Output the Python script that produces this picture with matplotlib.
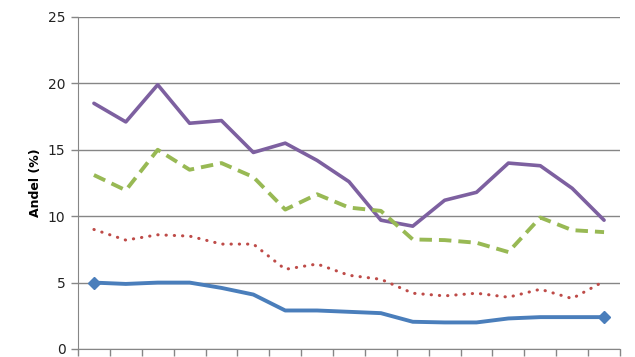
import matplotlib
matplotlib.use("Agg")
import matplotlib.pyplot as plt
import numpy as np

categories = list(range(1, 18))
purple = [18.5, 17.1, 19.9, 17.0, 17.2, 14.8, 15.5, 14.2, 12.6, 9.7, 9.25, 11.2, 11.8, 14.0, 13.8, 12.1, 9.7]
green = [13.1, 11.95, 15.0, 13.5, 14.0, 12.95, 10.5, 11.65, 10.65, 10.4, 8.25, 8.2, 8.0, 7.3, 9.9, 8.95, 8.8]
red = [9.0, 8.2, 8.6, 8.5, 7.9, 7.9, 6.0, 6.4, 5.55, 5.25, 4.2, 4.0, 4.2, 3.9, 4.5, 3.8, 5.1]
blue = [5.0, 4.9, 5.0, 5.0, 4.6, 4.1, 2.9, 2.9, 2.8, 2.7, 2.05, 2.0, 2.0, 2.3, 2.4, 2.4, 2.4]
yticks = [0, 5, 10, 15, 20, 25]
ylabel = "Andel (%)"

fig = plt.figure(figsize=(6.35, 3.57), dpi=100)
ax = fig.add_axes([78/635, 8/357, (620-78)/635, (349-17)/357])

x = np.arange(len(categories))
ax.plot(x, purple, color="#7D60A0", lw=2.6, solid_capstyle="round", zorder=3)
ax.plot(x, green, color="#98B954", lw=2.8, dashes=(3.2, 1.8), zorder=3)
ax.plot(x, red, color="#BE4B48", lw=2.2, linestyle=(0, (0.1, 2.6)), dash_capstyle="round", zorder=3)
ax.plot(x, blue, color="#4A7EBB", lw=2.8, marker="D", markersize=6, markevery=[0, len(blue)-1], zorder=3)

ax.set_xlim(-0.5, len(categories) - 0.5)
ax.set_ylim(0, 25)
ax.set_yticks(yticks)
ax.set_yticklabels([str(v) for v in yticks], fontsize=10, color="#222222")
ax.set_xticks(np.arange(-0.5, len(categories) + 0.5, 1))
ax.set_xticklabels([])
ax.tick_params(axis="x", direction="out", length=5, color="#868686", width=1)
ax.tick_params(axis="y", direction="out", length=5, color="#868686", width=1, pad=4)
ax.yaxis.grid(True, color="#868686", lw=1)
ax.set_axisbelow(True)
for s in ["top", "right"]:
    ax.spines[s].set_visible(False)
for s in ["left", "bottom"]:
    ax.spines[s].set_color("#868686")
ax.set_ylabel(ylabel, fontsize=9, fontweight="bold", labelpad=4)

fig.savefig("out.png", dpi=100)
